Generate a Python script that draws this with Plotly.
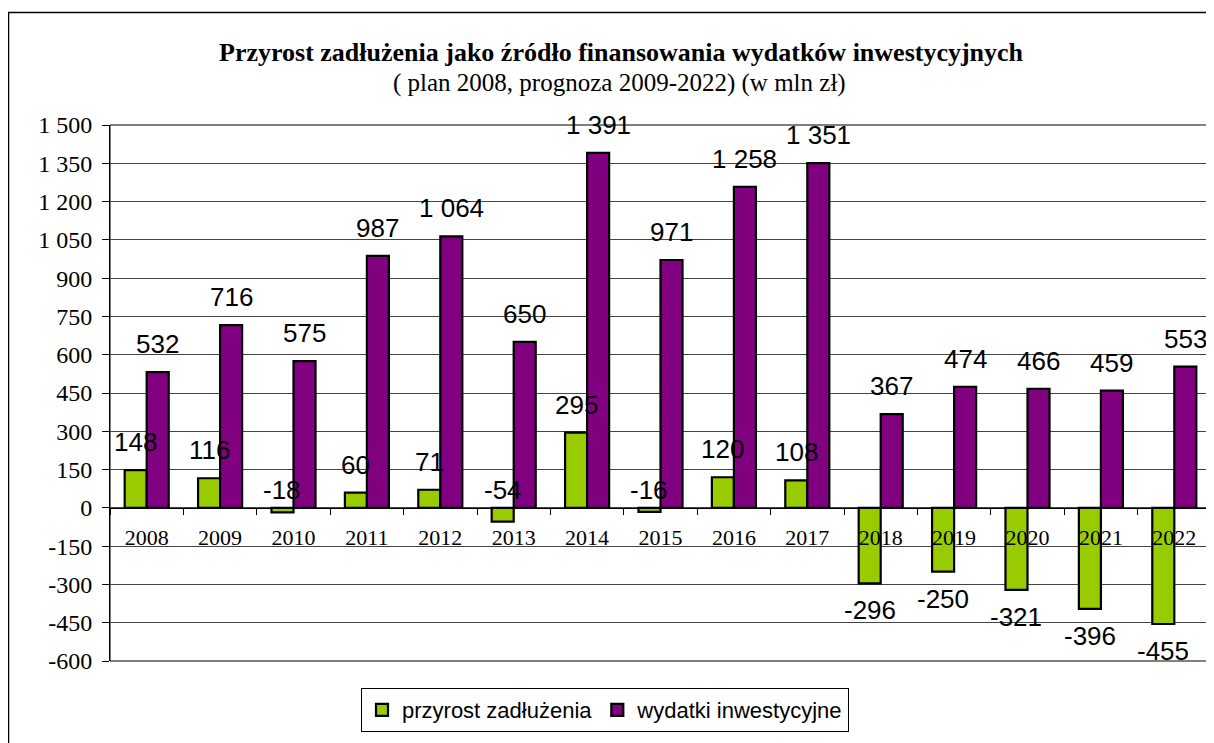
import plotly.graph_objects as go

years = [str(y) for y in range(2008, 2023)]
przyrost = [148, 116, -18, 60, 71, -54, 295, -16, 120, 108, -296, -250, -321, -396, -455]
wydatki = [532, 716, 575, 987, 1064, 650, 1391, 971, 1258, 1351, 367, 474, 466, 459, 553]
y_ticks = list(range(-600, 1501, 150))

GREEN = "#99CC00"
PURPLE = "#800080"
SERIF = "Liberation Serif, Times New Roman, serif"
SANS = "Liberation Sans, Arial, sans-serif"

OFF = 8  # page body margin
W, H = 1214 - OFF, 743 - OFF
L, T = 110 - OFF, 125 - OFF
R = W - (1211 - OFF)
B = H - (661 - OFF)
PW, PH = W - L - R, H - T - B
YMIN, YMAX = -600, 1500


def fmt(v):
    return f"{v:,}".replace(",", " ")


def px_x(p):
    return (p - OFF - L) / PW


def px_y(p):
    return (H - B - (p - OFF)) / PH


fig = go.Figure()
fig.add_trace(go.Bar(name="przyrost zadłużenia", x=years, y=przyrost,
                     marker=dict(color=GREEN, line=dict(color="black", width=2.2))))
fig.add_trace(go.Bar(name="wydatki inwestycyjne", x=years, y=wydatki,
                     marker=dict(color=PURPLE, line=dict(color="black", width=2.2))))

cat_w = PW / len(years)
bar_w = cat_w * (1 - 0.4) / 2
annotations = []
for series, shift in ((przyrost, -bar_w / 2), (wydatki, bar_w / 2)):
    for i, v in enumerate(series):
        if v >= 0:
            a = dict(y=v, yanchor="bottom", yshift=11)
        elif v > -100:
            a = dict(y=0, yanchor="bottom", yshift=1)
        else:
            a = dict(y=v, yanchor="top", yshift=-10)
        annotations.append(dict(x=i, xref="x", yref="y", text=fmt(v), showarrow=False,
                                xshift=shift, font=dict(family=SANS, size=26, color="black"), **a))

annotations.append(dict(x=px_x(621), y=px_y(52), xref="paper", yref="paper", showarrow=False,
                        text="<b>Przyrost zadłużenia jako źródło finansowania wydatków inwestycyjnych</b>",
                        font=dict(family=SERIF, size=26, color="black"), xanchor="center", yanchor="middle"))
annotations.append(dict(x=px_x(619), y=px_y(83), xref="paper", yref="paper", showarrow=False,
                        text="( plan 2008, prognoza 2009-2022) (w mln zł)",
                        font=dict(family=SERIF, size=25, color="black"), xanchor="center", yanchor="middle"))

shapes = [
    dict(type="rect", xref="paper", yref="paper", x0=0, x1=1, y0=0, y1=1,
         line=dict(color="black", width=1), layer="below"),
    dict(type="line", xref="paper", yref="paper", x0=px_x(8.5), x1=px_x(8.5), y0=px_y(12), y1=px_y(760),
         line=dict(color="black", width=1.5)),
    dict(type="line", xref="paper", yref="paper", x0=px_x(8), x1=px_x(1230), y0=px_y(12.5), y1=px_y(12.5),
         line=dict(color="black", width=1.5)),
]

fig.update_layout(
    width=W, height=H,
    margin=dict(l=L, r=R, t=T, b=B),
    paper_bgcolor="white", plot_bgcolor="white",
    barmode="group", bargap=0.4, bargroupgap=0,
    showlegend=True,
    legend=dict(orientation="h", x=px_x(605), xanchor="center", y=px_y(710), yanchor="middle",
                bordercolor="black", borderwidth=1, font=dict(family=SANS, size=22, color="black"),
                traceorder="normal", itemclick=False),
    annotations=annotations,
    shapes=shapes,
    xaxis=dict(type="category", range=[-0.5, len(years) - 0.5],
               anchor="free", position=(0 - YMIN) / (YMAX - YMIN),
               showline=True, linecolor="black", linewidth=1,
               ticks="outside", ticklen=6, tickcolor="black", tickson="boundaries",
               ticklabelstandoff=10, tickangle=0,
               tickfont=dict(family=SERIF, size=22, color="black"),
               showgrid=False, zeroline=False, fixedrange=True),
    yaxis=dict(range=[YMIN, YMAX], tickvals=y_ticks, ticktext=[fmt(v) for v in y_ticks],
               showline=True, linecolor="black", linewidth=1,
               ticks="outside", ticklen=7, tickcolor="black", ticklabelstandoff=5,
               showgrid=True, gridcolor="#444444", gridwidth=1, zeroline=False,
               tickfont=dict(family=SERIF, size=24, color="black"), fixedrange=True),
)

fig.write_html("out.html")
